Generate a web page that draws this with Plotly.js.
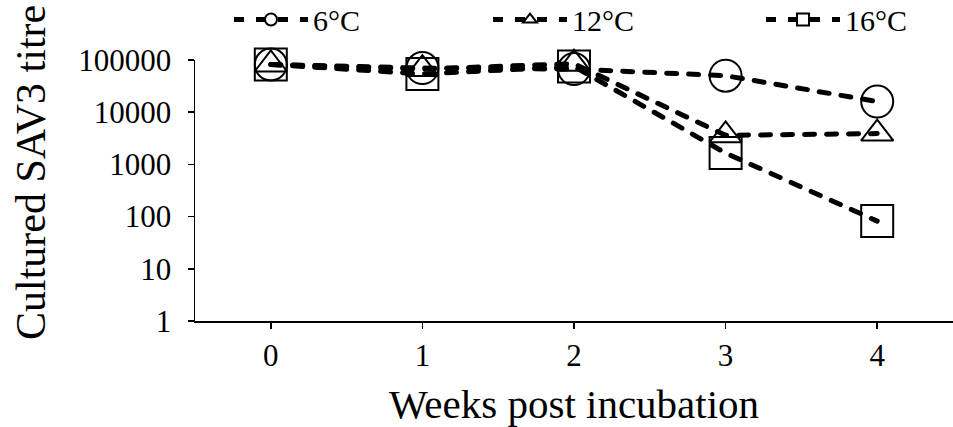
<!DOCTYPE html>
<html>
<head>
<meta charset="utf-8">
<script src="https://cdn.plot.ly/plotly-3.0.1.min.js"></script>
<style>
html, body { margin: 0; padding: 0; background: #fff; }
#chart { width: 953px; height: 427px; }
.scatterlayer .js-line { stroke-linecap: round; }
</style>
</head>
<body>
<div id="chart"></div>
<script>
const weeks = [0, 1, 2, 3, 4];
const weekLabels = ["0", "1", "2", "3", "4"];
const seriesNames = ["6°C", "12°C", "16°C"];
const titre6 = [82000, 70000, 67000, 50000, 16000];
const titre12 = [82000, 67000, 85000, 3600, 3900];
const titre16 = [82000, 54000, 75000, 1650, 82];
const yTickVals = [1, 10, 100, 1000, 10000, 100000];
const yTickText = ["1", "10", "100", "1000", "10000", "100000"];

const FONT = "Liberation Serif, Times New Roman, serif";
const symbols = ["circle-open", "triangle-up-open", "square-open"];
const sizes = [32, 28, 32];
const data = [titre6, titre12, titre16];
const legendIds = ["legend", "legend2", "legend3"];

const traces = data.map((ys, i) => ({
  x: weeks,
  y: ys,
  name: seriesNames[i],
  type: "scatter",
  mode: "lines+markers",
  legend: legendIds[i],
  line: { color: "#000", width: 5, dash: "10px,12px" },
  marker: { symbol: symbols[i], size: sizes[i], color: "#000", line: { color: "#000", width: 2 } },
  cliponaxis: false
}));

const legendBase = {
  orientation: "h",
  yanchor: "middle",
  y: 1.155,
  xanchor: "left",
  font: { family: FONT, size: 30, color: "#000" },
  itemwidth: 74,
  itemsizing: "constant",
  bgcolor: "rgba(0,0,0,0)"
};
const plotW = 953 - 195;
const legX = [233, 492, 765].map(px => (px - 4 - 195) / plotW);

const layout = {
  width: 953,
  height: 427,
  margin: { l: 195, r: 0, t: 60, b: 106, autoexpand: false },
  paper_bgcolor: "#fff",
  plot_bgcolor: "#fff",
  font: { family: FONT, color: "#000" },
  showlegend: true,
  legend: Object.assign({}, legendBase, { x: legX[0] }),
  legend2: Object.assign({}, legendBase, { x: legX[1] }),
  legend3: Object.assign({}, legendBase, { x: legX[2] }),
  xaxis: {
    range: [-0.5, 4.5],
    tickvals: weeks,
    ticktext: weekLabels,
    ticks: "outside",
    ticklen: 6,
    tickwidth: 1.5,
    tickcolor: "#000",
    showline: true,
    linecolor: "#000",
    linewidth: 1.5,
    showgrid: false,
    zeroline: false,
    automargin: false,
    tickfont: { family: FONT, size: 31, color: "#000" },
    title: { text: "Weeks post incubation", font: { family: FONT, size: 41, color: "#000" }, standoff: 18 }
  },
  yaxis: {
    type: "log",
    range: [0, 5],
    tickvals: yTickVals,
    ticktext: yTickText,
    ticks: "outside",
    ticklen: 6,
    tickwidth: 1.5,
    tickcolor: "#000",
    ticklabelstandoff: 10,
    showline: true,
    linecolor: "#000",
    linewidth: 1.5,
    showgrid: false,
    zeroline: false,
    automargin: false,
    tickfont: { family: FONT, size: 31, color: "#000" }
  },
  annotations: [{
    text: "Cultured SAV3 titre",
    textangle: -90,
    xref: "paper", yref: "paper",
    x: (31 - 195) / plotW, y: (321 - 173) / 261,
    xanchor: "center", yanchor: "middle",
    showarrow: false,
    font: { family: FONT, size: 42, color: "#000" }
  }]
};

Plotly.newPlot("chart", traces, layout, { displayModeBar: false, staticPlot: true });
</script>
</body>
</html>
